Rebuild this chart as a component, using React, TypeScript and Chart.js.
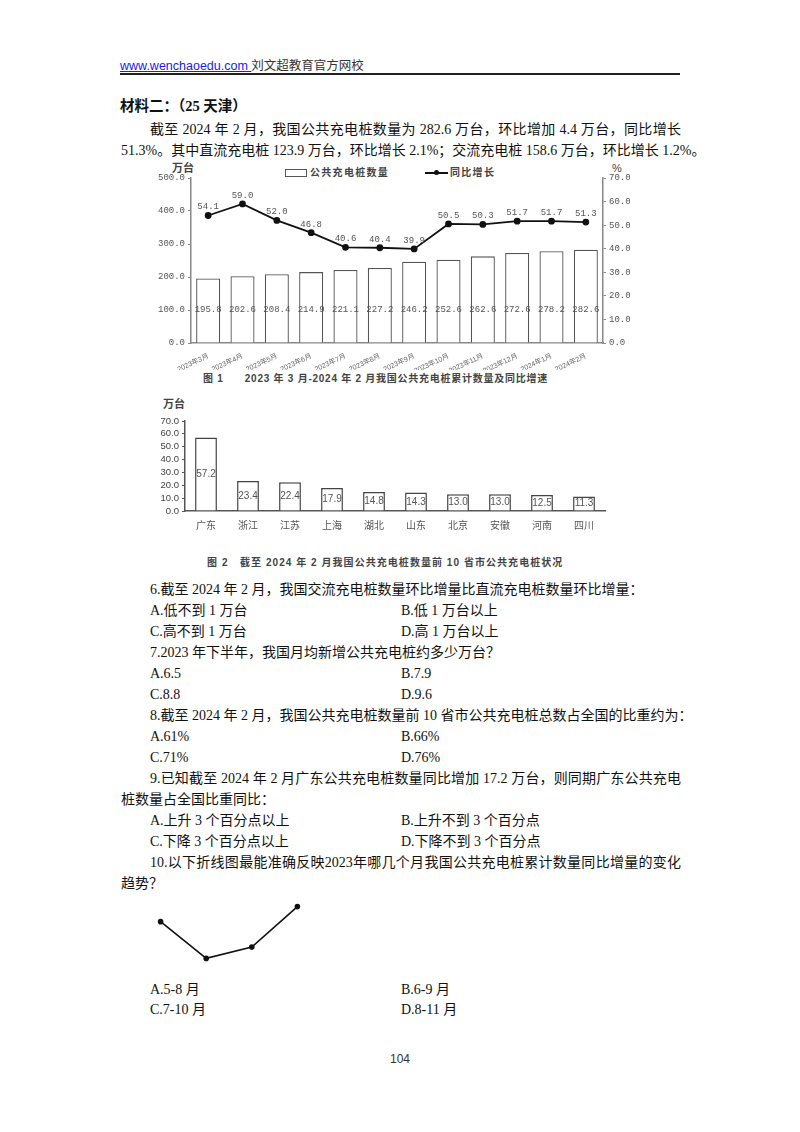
import { useEffect, useRef } from "react";
import Chart from "chart.js/auto";
import type { Chart as ChartInstance, ChartConfiguration, Plugin } from "chart.js";

// 图1 data
const months = [
  "2023年3月", "2023年4月", "2023年5月", "2023年6月", "2023年7月", "2023年8月",
  "2023年9月", "2023年10月", "2023年11月", "2023年12月", "2024年1月", "2024年2月",
];
const pileCounts = [195.8, 202.6, 208.4, 214.9, 221.1, 227.2, 246.2, 252.6, 262.6, 272.6, 278.2, 282.6];
const yoyGrowth = [54.1, 59.0, 52.0, 46.8, 40.6, 40.4, 39.9, 50.5, 50.3, 51.7, 51.7, 51.3];

// 图2 data
const provinces = ["广东", "浙江", "江苏", "上海", "湖北", "山东", "北京", "安徽", "河南", "四川"];
const provinceCounts = [57.2, 23.4, 22.4, 17.9, 14.8, 14.3, 13.0, 13.0, 12.5, 11.3];

// question 10 sketch
const sketchSteps = ["1", "2", "3", "4"];
const sketchValues = [39, 0, 12, 55];

const SERIF = '"Liberation Serif", "Noto Sans CJK SC", serif';
const SANS = '"Liberation Sans", "Noto Sans CJK SC", sans-serif';
const MONO = '"Liberation Mono", "Noto Sans CJK SC", monospace';

const fig1Labels: Plugin<"bar"> = {
  id: "fig1-labels",
  afterDatasetsDraw(chart: ChartInstance<"bar">) {
    const { ctx } = chart;
    const yAxis = chart.scales.y;
    ctx.save();
    ctx.font = `9px ${MONO}`;
    ctx.fillStyle = "#555";
    ctx.textAlign = "center";
    ctx.textBaseline = "middle";
    chart.getDatasetMeta(0).data.forEach((el, i) => {
      ctx.fillText(pileCounts[i].toFixed(1), el.x, yAxis.getPixelForValue(100));
    });
    ctx.textBaseline = "bottom";
    chart.getDatasetMeta(1).data.forEach((el, i) => {
      ctx.fillText(yoyGrowth[i].toFixed(1), el.x, el.y - 4);
    });
    ctx.restore();
  },
};

const fig2Labels: Plugin<"bar"> = {
  id: "fig2-labels",
  afterDatasetsDraw(chart: ChartInstance<"bar">) {
    const { ctx } = chart;
    const yAxis = chart.scales.y;
    ctx.save();
    ctx.font = `10px ${SANS}`;
    ctx.fillStyle = "#555";
    ctx.textAlign = "center";
    ctx.textBaseline = "middle";
    chart.getDatasetMeta(0).data.forEach((el, i) => {
      ctx.fillText(provinceCounts[i].toFixed(1), el.x, yAxis.getPixelForValue(provinceCounts[i] / 2));
    });
    ctx.restore();
  },
};

function ChartBox({ left, top, width, height, config }: {
  left: number; top: number; width: number; height: number; config: () => ChartConfiguration;
}) {
  const canvasRef = useRef<HTMLCanvasElement | null>(null);
  useEffect(() => {
    const canvas = canvasRef.current;
    if (!canvas) return;
    const chart = new Chart(canvas, config());
    return () => chart.destroy();
  }, [config]);
  return (
    <div style={{ position: "absolute", left, top, width, height }}>
      <canvas ref={canvasRef} />
    </div>
  );
}

function fig1Config(): ChartConfiguration {
  return {
    type: "bar",
    data: {
      labels: months,
      datasets: [
        {
          type: "bar",
          label: "公共充电桩数量",
          data: pileCounts,
          backgroundColor: "#fff",
          borderColor: "#555",
          borderWidth: 1.3,
          categoryPercentage: 1,
          barPercentage: 0.7,
          yAxisID: "y",
          order: 2,
        },
        {
          type: "line",
          label: "同比增长",
          data: yoyGrowth,
          borderColor: "#111",
          backgroundColor: "#111",
          borderWidth: 1.8,
          pointRadius: 2.5,
          yAxisID: "y1",
          order: 1,
        },
      ],
    },
    plugins: [fig1Labels as Plugin],
    options: {
      animation: false,
      responsive: true,
      maintainAspectRatio: false,
      layout: { padding: { top: 18, left: 0, right: 0, bottom: 0 } },
      plugins: { legend: { display: false }, tooltip: { enabled: false } },
      scales: {
        x: {
          grid: { display: false },
          border: { color: "#888", width: 1.5 },
          ticks: { color: "#666", font: { family: SANS, size: 7 }, minRotation: 25, maxRotation: 25, padding: 1, autoSkip: false },
          afterFit: (s) => { s.height = 27; },
        },
        y: {
          position: "left",
          min: 0,
          max: 500,
          grid: { drawOnChartArea: false, color: "#888", tickLength: 3 },
          border: { color: "#888", width: 1.5 },
          ticks: { stepSize: 100, autoSkip: false, color: "#555", font: { family: MONO, size: 9 }, padding: 3, callback: (v) => Number(v).toFixed(1) },
          afterFit: (s) => { s.width = 41; },
        },
        y1: {
          position: "right",
          min: 0,
          max: 70,
          grid: { drawOnChartArea: false, color: "#888", tickLength: 3 },
          border: { color: "#888", width: 1.5 },
          ticks: { stepSize: 10, autoSkip: false, color: "#555", font: { family: MONO, size: 9 }, padding: 3, callback: (v) => Number(v).toFixed(1) },
          afterFit: (s) => { s.width = 37; },
        },
      },
    },
  };
}

function fig2Config(): ChartConfiguration {
  return {
    type: "bar",
    data: {
      labels: provinces,
      datasets: [
        {
          label: "公共充电桩",
          data: provinceCounts,
          backgroundColor: "#fff",
          borderColor: "#444",
          borderWidth: 1.5,
          categoryPercentage: 1,
          barPercentage: 0.52,
        },
      ],
    },
    plugins: [fig2Labels as Plugin],
    options: {
      animation: false,
      responsive: true,
      maintainAspectRatio: false,
      layout: { padding: { top: 26, left: 0, right: 5, bottom: 0 } },
      plugins: { legend: { display: false }, tooltip: { enabled: false } },
      scales: {
        x: {
          grid: { display: false },
          border: { color: "#555", width: 1.5 },
          ticks: { color: "#555", font: { family: SANS, size: 10 }, padding: 1, autoSkip: false },
          afterFit: (s) => { s.height = 19; },
        },
        y: {
          min: 0,
          max: 70,
          grid: { drawOnChartArea: false, color: "#555", tickLength: 3 },
          border: { color: "#555", width: 1.5 },
          ticks: { stepSize: 10, autoSkip: false, color: "#444", font: { family: SANS, size: 9.5 }, padding: 3, callback: (v) => Number(v).toFixed(1) },
          afterFit: (s) => { s.width = 35; },
        },
      },
    },
  };
}

function sketchConfig(): ChartConfiguration {
  return {
    type: "line",
    data: {
      labels: sketchSteps,
      datasets: [
        {
          data: sketchValues,
          borderColor: "#111",
          backgroundColor: "#111",
          borderWidth: 1.6,
          pointRadius: 2,
          clip: false,
        },
      ],
    },
    options: {
      animation: false,
      responsive: true,
      maintainAspectRatio: false,
      layout: { padding: 4 },
      plugins: { legend: { display: false }, tooltip: { enabled: false } },
      scales: {
        x: { display: false, offset: false },
        y: { display: false, min: 0, max: 55 },
      },
    },
  };
}

function Line({ x, y, w, bold, size = 14, children }: {
  x: number; y: number; w?: number; bold?: boolean; size?: number; children: React.ReactNode;
}) {
  return (
    <div
      style={{
        position: "absolute",
        left: x,
        top: y - 10,
        width: w,
        lineHeight: "20px",
        fontSize: size,
        fontFamily: SERIF,
        fontWeight: bold ? 700 : 400,
        color: "#111",
        whiteSpace: "nowrap",
        textAlign: w ? "justify" : "left",
        textAlignLast: w ? "justify" : "auto",
      }}
    >
      {children}
    </div>
  );
}

const caption: React.CSSProperties = {
  position: "absolute",
  fontFamily: SANS,
  fontWeight: 700,
  fontSize: 10,
  color: "#444",
  whiteSpace: "pre",
  lineHeight: "14px",
};

const small: React.CSSProperties = {
  position: "absolute",
  fontFamily: SANS,
  fontSize: 10,
  color: "#444",
  lineHeight: "12px",
  whiteSpace: "nowrap",
};

export default function App() {
  return (
    <div style={{ position: "absolute", left: 0, top: 0, width: 800, height: 1132, background: "#fff", overflow: "hidden" }}>
      {/* header */}
      <div style={{ position: "absolute", left: 120, top: 58, fontFamily: SANS, fontSize: 12.5, lineHeight: "16px", color: "#333", whiteSpace: "pre" }}>
        <span style={{ color: "#1a1aee", textDecoration: "underline" }}>www.wenchaoedu.com </span>刘文超教育官方网校
      </div>
      <div style={{ position: "absolute", left: 120, top: 73, width: 560, height: 1.5, background: "#222" }} />

      <Line x={120} y={106} bold size={14.5}>材料二：（25 天津）</Line>
      <Line x={150} y={130} w={531}>截至 2024 年 2 月，我国公共充电桩数量为 282.6 万台，环比增加 4.4 万台，同比增长</Line>
      <Line x={121} y={151} w={560}>51.3%。其中直流充电桩 123.9 万台，环比增长 2.1%；交流充电桩 158.6 万台，环比增长 1.2%。</Line>

      {/* 图1 */}
      <div style={{ ...small, left: 172, top: 162, fontSize: 11, fontWeight: 700 }}>万台</div>
      <div style={{ ...small, left: 612, top: 162, fontSize: 11 }}>%</div>
      <div style={{ position: "absolute", left: 285, top: 169, width: 20, height: 6, border: "1px solid #555" }} />
      <div style={{ ...small, left: 310, top: 167, fontWeight: 700, letterSpacing: 1.3 }}>公共充电桩数量</div>
      <div style={{ position: "absolute", left: 425, top: 172, width: 23, height: 2, background: "#111" }} />
      <div style={{ position: "absolute", left: 434, top: 170, width: 5, height: 5, borderRadius: 3, background: "#111" }} />
      <div style={{ ...small, left: 450, top: 167, fontWeight: 700, letterSpacing: 1.3 }}>同比增长</div>
      <ChartBox left={150} top={160} width={490} height={210} config={fig1Config} />
      <div style={{ ...caption, left: 203, top: 372, letterSpacing: 0.75 }}>{"图 1      2023 年 3 月-2024 年 2 月我国公共充电桩累计数量及同比增速"}</div>

      {/* 图2 */}
      <div style={{ ...small, left: 163, top: 398, fontSize: 11, fontWeight: 700 }}>万台</div>
      <ChartBox left={150} top={395} width={460} height={135} config={fig2Config} />
      <div style={{ ...caption, left: 207, top: 556, letterSpacing: 1.05 }}>{"图 2   截至 2024 年 2 月我国公共充电桩数量前 10 省市公共充电桩状况"}</div>

      {/* questions */}
      <Line x={150} y={590}>6.截至 2024 年 2 月，我国交流充电桩数量环比增量比直流充电桩数量环比增量：</Line>
      <Line x={150} y={611}>A.低不到 1 万台</Line>
      <Line x={401} y={611}>B.低 1 万台以上</Line>
      <Line x={150} y={632}>C.高不到 1 万台</Line>
      <Line x={401} y={632}>D.高 1 万台以上</Line>
      <Line x={150} y={653}>7.2023 年下半年，我国月均新增公共充电桩约多少万台？</Line>
      <Line x={150} y={674}>A.6.5</Line>
      <Line x={401} y={674}>B.7.9</Line>
      <Line x={150} y={695}>C.8.8</Line>
      <Line x={401} y={695}>D.9.6</Line>
      <Line x={150} y={716}>8.截至 2024 年 2 月，我国公共充电桩数量前 10 省市公共充电桩总数占全国的比重约为：</Line>
      <Line x={150} y={737}>A.61%</Line>
      <Line x={401} y={737}>B.66%</Line>
      <Line x={150} y={758}>C.71%</Line>
      <Line x={401} y={758}>D.76%</Line>
      <Line x={150} y={779} w={531}>9.已知截至 2024 年 2 月广东公共充电桩数量同比增加 17.2 万台，则同期广东公共充电</Line>
      <Line x={121} y={800}>桩数量占全国比重同比：</Line>
      <Line x={150} y={821}>A.上升 3 个百分点以上</Line>
      <Line x={401} y={821}>B.上升不到 3 个百分点</Line>
      <Line x={150} y={842}>C.下降 3 个百分点以上</Line>
      <Line x={401} y={842}>D.下降不到 3 个百分点</Line>
      <Line x={150} y={863} w={531}>10.以下折线图最能准确反映2023年哪几个月我国公共充电桩累计数量同比增量的变化</Line>
      <Line x={121} y={884}>趋势？</Line>

      <ChartBox left={155} top={901} width={148} height={63} config={sketchConfig} />

      <Line x={150} y={990}>A.5-8 月</Line>
      <Line x={401} y={990}>B.6-9 月</Line>
      <Line x={150} y={1010}>C.7-10 月</Line>
      <Line x={401} y={1010}>D.8-11 月</Line>

      <div style={{ position: "absolute", left: 390, top: 1052, fontFamily: SANS, fontSize: 12, color: "#333" }}>104</div>
    </div>
  );
}
